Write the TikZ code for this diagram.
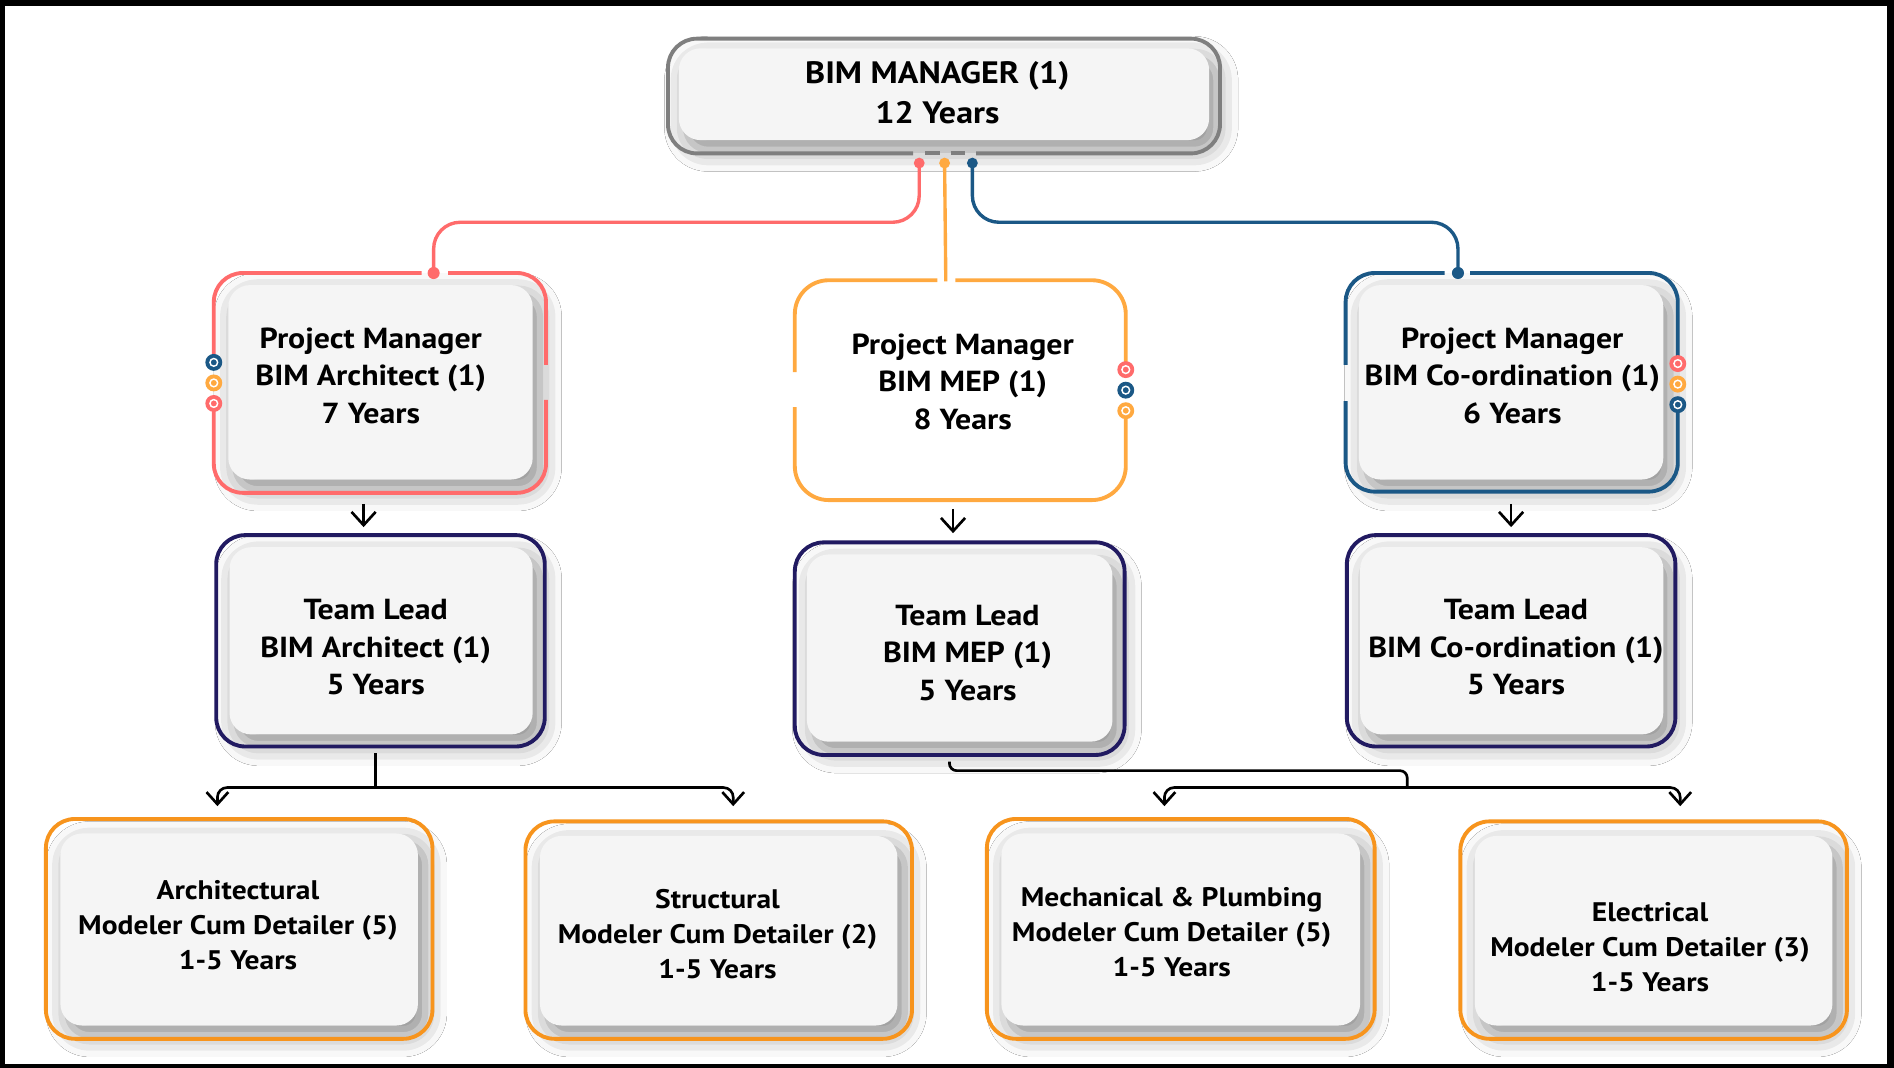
\documentclass[tikz,border=0pt]{standalone}
\usepackage{fontspec}
\setmainfont{PT Sans}[FakeStretch=1.1]
\usetikzlibrary{arrows.meta,shadows.blur}
\definecolor{mgray}{HTML}{7F7F7F}
\definecolor{cred}{HTML}{FF6B6B}
\definecolor{corg}{HTML}{FFA940}
\definecolor{cblue}{HTML}{1B5886}
\definecolor{cnavy}{HTML}{211A61}
\definecolor{borg}{HTML}{F7941D}
\definecolor{fillc}{HTML}{F5F5F5}
\tikzset{
  innerbox/.style={fill=fillc, rounded corners=18pt,
    blur shadow={shadow xshift=6pt, shadow yshift=-8pt, shadow blur radius=18pt, shadow opacity=45}},
  frame/.style={line width=3.2pt, rounded corners=24pt},
  tlbox/.style={draw=cnavy, line width=3.2pt, rounded corners=24pt, inner sep=0pt},
  btbox/.style={draw=borg, line width=3.2pt, rounded corners=24pt, inner sep=0pt},
  txt/.style={font=\bfseries\fontsize{24}{31}\selectfont, align=center, inner sep=0pt},
  btxt/.style={font=\bfseries\fontsize{22.2}{29}\selectfont, align=center, inner sep=0pt},
  mtxt/.style={font=\bfseries\fontsize{25.6}{33}\selectfont, align=center, inner sep=0pt},
  link/.style={line width=2.8pt},
  arr/.style={line width=2.2pt, -{Straight Barb[length=11pt,width=20pt]}},
  conn/.style={line width=2.2pt},
  bar/.style={line width=2.2pt, rounded corners=8pt,
    {Straight Barb[length=10pt,width=18pt]}-{Straight Barb[length=10pt,width=18pt]}},
  pics/ringdot/.style={code={\fill (0,0) circle (7); \draw[white, line width=1.2pt] (0,0) circle (3.2);}}
}
\begin{document}
\begin{tikzpicture}[x=1pt, y=-1pt]
\useasboundingbox (0,0) rectangle (1568,884);
\fill[black] (0,0) rectangle (1568,884);
\fill[white] (4,5) rectangle (1562,880.5);

% box anchor nodes
\node[minimum width=457pt, minimum height=95pt, inner sep=0pt] (mgr) at (781.5,79.5) {};
\node[minimum width=275pt, minimum height=182pt, inner sep=0pt] (pmA) at (314.5,317) {};
\node[minimum width=274pt, minimum height=182pt, inner sep=0pt] (pmB) at (795,323) {};
\node[minimum width=275pt, minimum height=181pt, inner sep=0pt] (pmC) at (1251.5,316.5) {};

% inner fills with shadows
\path[innerbox] (562,40) rectangle (1001,116);
\path[innerbox] (189,236) rectangle (441,397);
\path[innerbox] (1125,236) rectangle (1377,397);
\path[innerbox] (190,453) rectangle (441,608);
\path[innerbox] (668,459) rectangle (921,614);
\path[innerbox] (1126,453) rectangle (1377,608);
\path[innerbox] (50,690) rectangle (346,849);
\path[innerbox] (447,692) rectangle (743,849);
\path[innerbox] (829,690) rectangle (1126,849);
\path[innerbox] (1221,692) rectangle (1517,849);

% team lead and bottom boxes
\node[tlbox, minimum width=272pt, minimum height=175pt] (tlA) at (315,530.5) {};
\node[tlbox, minimum width=273pt, minimum height=176pt] (tlB) at (794.5,537) {};
\node[tlbox, minimum width=272pt, minimum height=175pt] (tlC) at (1251,530.5) {};
\node[btbox, minimum width=320pt, minimum height=182pt] (bA) at (198,769) {};
\node[btbox, minimum width=320pt, minimum height=180pt] (bB) at (595,770) {};
\node[btbox, minimum width=321pt, minimum height=182pt] (bC) at (977.5,769) {};
\node[btbox, minimum width=320pt, minimum height=180pt] (bD) at (1369,770) {};

% manager frame with gaps
\draw[mgray, frame] (756,127) -- (553,127) -- (553,32) -- (1010,32) -- (1010,127) -- (808,127);
\draw[mgray, line width=3.2pt] (766,127) -- (778,127) (787,127) -- (799,127);

% PM frames
\draw[cred, frame] (371,226) -- (452,226) -- (452,302);
\draw[cred, frame] (452,331) -- (452,408) -- (177,408) -- (177,334);
\draw[cred, frame] (177,300) -- (177,226) -- (349,226);

\draw[corg, frame, rounded corners=28pt] (791,232) -- (932,232) -- (932,306);
\draw[corg, frame, rounded corners=28pt] (932,340) -- (932,414) -- (658,414) -- (658,337);
\draw[corg, frame, rounded corners=28pt] (658,308) -- (658,232) -- (776,232);

\draw[cblue, frame] (1217,226) -- (1389,226) -- (1389,301);
\draw[cblue, frame] (1389,335) -- (1389,407) -- (1114,407) -- (1114,332);
\draw[cblue, frame] (1114,302) -- (1114,226) -- (1196,226);

% connectors manager -> PM
\coordinate (mR) at (761,135);
\coordinate (mO) at (782,135);
\coordinate (mB) at (805,135);
\coordinate (kR) at (560,184);
\coordinate (kB) at (1000,184);
\coordinate (pA) at (359,226);
\coordinate (pB) at (783,233);
\coordinate (pC) at (1207,226);
\draw[cred, link, rounded corners=22pt] (mR) |- (kR) -| (pA);
\draw[cblue, link, rounded corners=22pt] (mB) |- (kB) -| (pC);
\draw[corg, link] (mO) -- (pB);
\fill[cred] (mR) circle (4.5);
\fill[corg] (mO) circle (4.5);
\fill[cblue] (mB) circle (4.5);
\fill[cred] (pA) circle (5);
\fill[cblue] (pC) circle (5);

% ring dots
\pic[color=cblue] at (177,300) {ringdot};
\pic[color=corg] at (177,317) {ringdot};
\pic[color=cred] at (177,334) {ringdot};
\pic[color=cred] at (932,306) {ringdot};
\pic[color=cblue] at (932,323) {ringdot};
\pic[color=corg] at (932,340) {ringdot};
\pic[color=cred] at (1389,301) {ringdot};
\pic[color=corg] at (1389,318) {ringdot};
\pic[color=cblue] at (1389,335) {ringdot};

% PM -> team lead arrows
\coordinate (xA) at (301,0);
\coordinate (xB) at (789,0);
\coordinate (xC) at (1251,0);
\draw[arr, shorten <=9pt, shorten >=5pt] (pmA.south -| xA) -- (tlA.north -| xA);
\draw[arr, shorten <=7pt, shorten >=6pt] (pmB.south -| xB) -- (tlB.north -| xB);
\draw[arr, shorten <=10pt, shorten >=5pt] (pmC.south -| xC) -- (tlC.north -| xC);

% team lead -> modelers
\coordinate (jA) at (311,652);
\coordinate (hA1) at (180,652);
\coordinate (hA2) at (607,652);
\draw[conn, shorten <=4pt] (tlA.south -| jA) -- (jA);
\draw[bar, shorten <=9pt, shorten >=11pt] (bA.north -| hA1) |- (hA2) -- (bB.north -| hA2);

\coordinate (jB1) at (786,638);
\coordinate (jB2) at (1165,652);
\coordinate (hB1) at (964,652);
\coordinate (hB2) at (1391,652);
\draw[conn, rounded corners=6pt, shorten <=4pt] (tlB.south -| jB1) -- (jB1) -| (jB2);
\draw[bar, shorten <=9pt, shorten >=11pt] (bC.north -| hB1) |- (hB2) -- (bD.north -| hB2);

% texts
\node[mtxt] (tMgr) at (776,76.5) {BIM MANAGER (1)\\12 Years};
\node[txt] (tPmA) at (307,311) {Project Manager\\BIM Architect (1)\\7 Years};
\node[txt] (tPmB) at (797,316) {Project Manager\\BIM MEP (1)\\8 Years};
\node[txt] (tPmC) at (1252,311) {Project Manager\\BIM Co-ordination (1)\\6 Years};
\node[txt] (tTlA) at (311,536) {Team Lead\\BIM Architect (1)\\5 Years};
\node[txt] (tTlB) at (801,540.5) {Team Lead\\BIM MEP (1)\\5 Years};
\node[txt] (tTlC) at (1255,536) {Team Lead\\BIM Co-ordination (1)\\5 Years};
\node[btxt] (tBA) at (197,766) {Architectural\\Modeler Cum Detailer (5)\\1-5 Years};
\node[btxt] (tBB) at (594,773) {Structural\\Modeler Cum Detailer (2)\\1-5 Years};
\node[btxt] (tBC) at (970,772) {Mechanical \& Plumbing\\Modeler Cum Detailer (5)\\1-5 Years};
\node[btxt] (tBD) at (1366,784) {Electrical\\Modeler Cum Detailer (3)\\1-5 Years};
\end{tikzpicture}
\end{document}
